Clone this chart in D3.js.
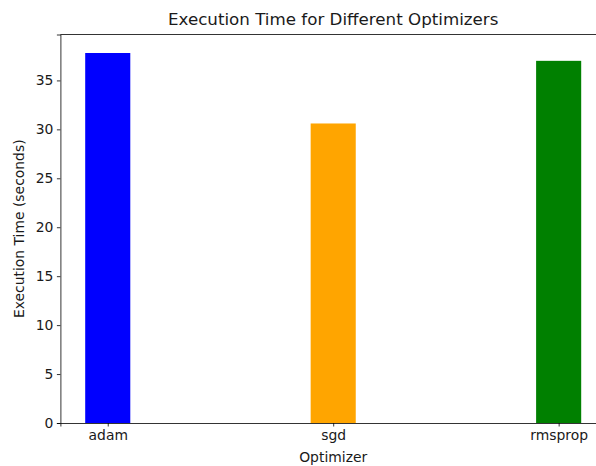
<!DOCTYPE html>
<html>
<head>
<meta charset="utf-8">
<script src="https://cdn.jsdelivr.net/npm/d3@7"></script>
<style>
  body { margin: 0; background: #fff; }
  svg { display: block; font-family: "DejaVu Sans", sans-serif; }
  svg text { fill: #1a1a1a; }
  .tick text { font-family: "DejaVu Sans", sans-serif; font-size: 13.9px; }
  .tick line, .domain { stroke: #000; stroke-width: 0.8; }
</style>
</head>
<body>
<div id="chart"></div>
<script>
// 数据
const optimizers = ["adam", "sgd", "rmsprop"];
const execTimes = [37.8, 30.6, 37.0];
const barColors = ["blue", "orange", "green"];
const yTicks = [0, 5, 10, 15, 20, 25, 30, 35];

// 尺寸
const W = 596, H = 466;
const plot = { left: 60.4, right: 606, top: 34.5, bottom: 423 };

const svg = d3.select("#chart").append("svg")
    .attr("width", W)
    .attr("height", H);

// 比例尺（与 matplotlib 的默认边距一致）
const x = d3.scaleLinear()
    .domain([-0.21, 2.21])
    .range([plot.left, plot.right]);

const yMax = d3.max(execTimes) * 1.05;
const y = d3.scaleLinear()
    .domain([0, yMax])
    .range([plot.bottom, plot.top]);

const barW = x(0.2) - x(0);

// 柱子
svg.append("g")
  .selectAll("rect")
  .data(optimizers)
  .enter()
  .append("rect")
  .attr("x", (d, i) => x(i) - barW / 2)
  .attr("y", (d, i) => y(execTimes[i]))
  .attr("width", barW)
  .attr("height", (d, i) => y(0) - y(execTimes[i]))
  .attr("fill", (d, i) => barColors[i]);

// 坐标轴
const xAxis = d3.axisBottom(x)
    .tickValues(d3.range(optimizers.length))
    .tickFormat(i => optimizers[i])
    .tickSizeOuter(0)
    .tickSize(3.5)
    .tickPadding(3.5);

svg.append("g")
    .attr("transform", `translate(0,${plot.bottom})`)
    .call(xAxis);

const yAxis = d3.axisLeft(y)
    .tickValues(yTicks)
    .tickSizeOuter(0)
    .tickSize(3.5)
    .tickPadding(3.5);

svg.append("g")
    .attr("transform", `translate(${plot.left},0)`)
    .call(yAxis);

// 上、右边框
svg.append("line")
    .attr("x1", plot.left).attr("x2", plot.right)
    .attr("y1", plot.top).attr("y2", plot.top)
    .attr("stroke", "#000").attr("stroke-width", 0.8);
svg.append("line")
    .attr("x1", plot.right).attr("x2", plot.right)
    .attr("y1", plot.top).attr("y2", plot.bottom)
    .attr("stroke", "#000").attr("stroke-width", 0.8);

const cx = (plot.left + plot.right) / 2;

// 标题
svg.append("text")
    .attr("x", cx)
    .attr("y", 25)
    .attr("text-anchor", "middle")
    .style("font-size", "16.7px")
    .text("Execution Time for Different Optimizers");

// 轴标题
svg.append("text")
    .attr("x", cx)
    .attr("y", 462)
    .attr("text-anchor", "middle")
    .style("font-size", "13.9px")
    .text("Optimizer");

svg.append("text")
    .attr("transform", "rotate(-90)")
    .attr("x", -(plot.top + plot.bottom) / 2)
    .attr("y", 24)
    .attr("text-anchor", "middle")
    .style("font-size", "13.9px")
    .text("Execution Time (seconds)");
</script>
</body>
</html>
